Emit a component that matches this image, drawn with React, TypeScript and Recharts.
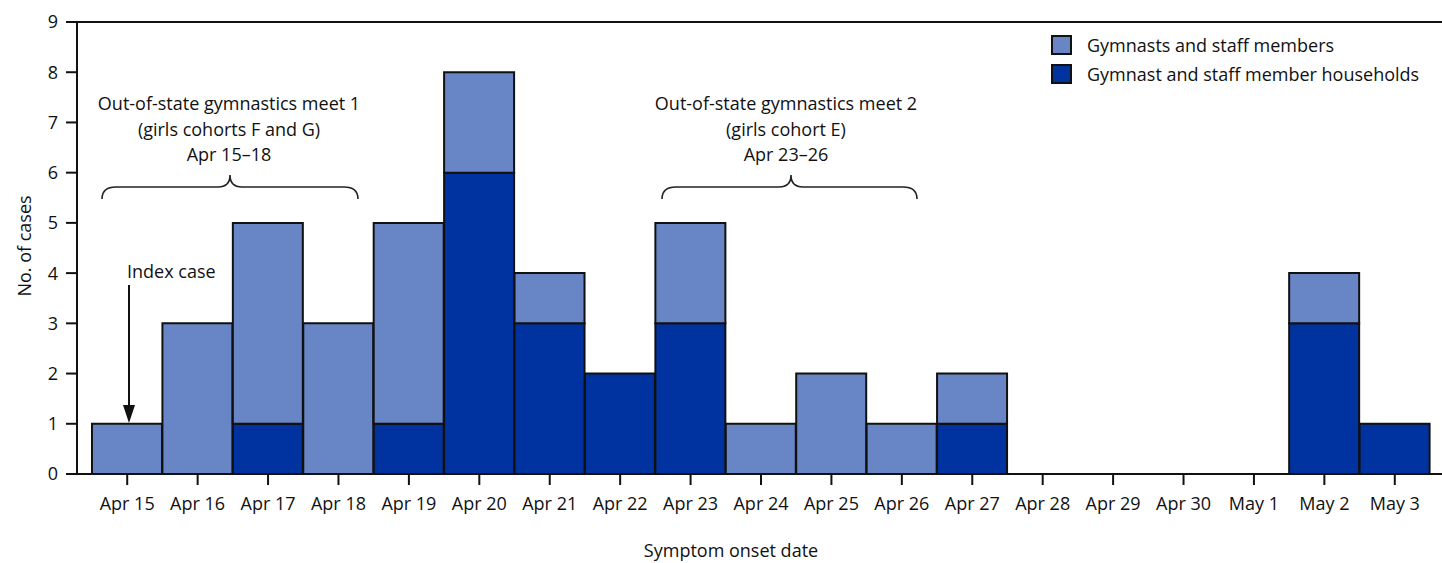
import { BarChart, Bar, XAxis, YAxis, ReferenceLine } from "recharts"

const dates = [
  "Apr 15", "Apr 16", "Apr 17", "Apr 18", "Apr 19", "Apr 20", "Apr 21", "Apr 22",
  "Apr 23", "Apr 24", "Apr 25", "Apr 26", "Apr 27", "Apr 28", "Apr 29", "Apr 30",
  "May 1", "May 2", "May 3",
]
const households = [0, 0, 1, 0, 1, 6, 3, 2, 3, 0, 0, 0, 1, 0, 0, 0, 0, 3, 1]
const gymnasts = [1, 3, 4, 3, 4, 2, 1, 0, 2, 1, 2, 1, 1, 0, 0, 0, 0, 1, 0]
const yTicks = [0, 1, 2, 3, 4, 5, 6, 7, 8, 9]
const seriesNames = ["Gymnasts and staff members", "Gymnast and staff member households"]

const LIGHT = "#6885c6"
const DARK = "#0033a0"
const INK = "#111"
const FONT = "'Open Sans', sans-serif"

const data = dates.map((d, i) => ({ date: d, households: households[i], gymnasts: gymnasts[i] }))

function LegendBox() {
  const colors = [LIGHT, DARK]
  return (
    <div style={{ position: "absolute", left: 1051, top: 30, fontFamily: FONT, fontSize: 18, color: INK }}>
      {seriesNames.map((name, i) => (
        <div key={name} style={{ display: "flex", alignItems: "center", height: 29 }}>
          <span style={{ width: 17, height: 16, background: colors[i], border: "2px solid #111", marginRight: 15 }} />
          <span>{name}</span>
        </div>
      ))}
    </div>
  )
}

export default function App() {
  return (
    <div style={{ position: "absolute", left: 0, top: 0, width: 1442, height: 563, fontFamily: FONT }}>
      <BarChart
        width={1442}
        height={563}
        data={data}
        margin={{ top: 22, right: 0, left: 0, bottom: 0 }}
        barCategoryGap={0}
        barGap={0}
      >
        <XAxis
          dataKey="date"
          height={89}
          padding={{ left: 15, right: 12 }}
          axisLine={{ stroke: INK, strokeWidth: 2 }}
          tickLine={{ stroke: INK, strokeWidth: 2 }}
          tickSize={11}
          tickMargin={12}
          interval={0}
          tick={{ fontSize: 18, fill: INK, fontFamily: FONT }}
          label={{
            content: () => (
              <text x={731} y={557} textAnchor="middle" fontSize={18} fill={INK} fontFamily={FONT}>
                Symptom onset date
              </text>
            ),
          }}
        />
        <YAxis
          width={77}
          domain={[0, 9]}
          ticks={yTicks}
          axisLine={{ stroke: INK, strokeWidth: 2 }}
          tickLine={{ stroke: INK, strokeWidth: 2 }}
          tickSize={11}
          tickMargin={8}
          tick={{ fontSize: 18, fill: INK, fontFamily: FONT }}
          label={{
            content: () => (
              <text
                transform="translate(31,246) rotate(-90)"
                textAnchor="middle"
                fontSize={18}
                fill={INK}
                fontFamily={FONT}
              >
                No. of cases
              </text>
            ),
          }}
        />
        <ReferenceLine y={9} stroke={INK} strokeWidth={2} />
        <Bar dataKey="households" name={seriesNames[1]} stackId="a" fill={DARK} stroke={INK} strokeWidth={2} isAnimationActive={false} />
        <Bar dataKey="gymnasts" name={seriesNames[0]} stackId="a" fill={LIGHT} stroke={INK} strokeWidth={2} isAnimationActive={false} />
      </BarChart>

      <LegendBox />

      <svg
        width={1442}
        height={563}
        style={{ position: "absolute", left: 0, top: 0, pointerEvents: "none" }}
        fontFamily={FONT}
        fontSize={18}
        fill={INK}
      >
        <g textAnchor="middle">
          <text x={229} y={110}>Out-of-state gymnastics meet 1</text>
          <text x={229} y={136}>(girls cohorts F and G)</text>
          <text x={229} y={161}>Apr 15–18</text>
          <text x={786} y={110}>Out-of-state gymnastics meet 2</text>
          <text x={786} y={136}>(girls cohort E)</text>
          <text x={786} y={161}>Apr 23–26</text>
        </g>
        <g fill="none" stroke="#222" strokeWidth={1.6}>
          <path d="M102,199 Q102,187 116,187 L218,187 Q230,187 230,175 Q230,187 242,187 L344,187 Q358,187 358,199" />
          <path d="M662,199 Q662,187 676,187 L779,187 Q791,187 791,175 Q791,187 803,187 L903,187 Q917,187 917,199" />
          <line x1={129} y1={285} x2={129} y2={408} stroke={INK} strokeWidth={2} />
        </g>
        <polygon points="123,405 135,405 129,423" fill={INK} />
        <text x={127} y={278}>Index case</text>
      </svg>
    </div>
  )
}
